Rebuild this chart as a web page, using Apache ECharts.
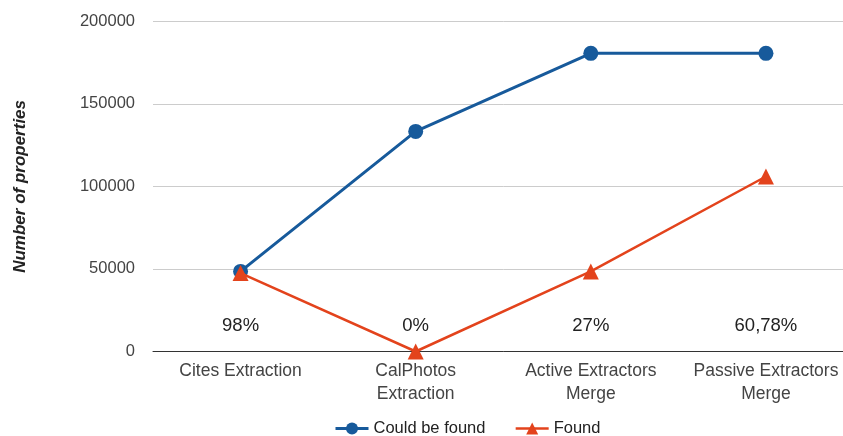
<!DOCTYPE html>
<html>
<head>
<meta charset="utf-8">
<script src="https://cdn.jsdelivr.net/npm/echarts@6/dist/echarts.min.js"></script>
<style>
  html, body { margin: 0; padding: 0; background: #fff; overflow: hidden; width: 843px; height: 436px; }
  /* plot runs past the right edge, so the canvas is a bit wider than the page */
  #chart { width: 855px; height: 436px; }
</style>
</head>
<body>
<div id="chart"></div>
<script>
// Extraction stages along the x axis
const categories = ['Cites Extraction', 'CalPhotos\nExtraction', 'Active Extractors\nMerge', 'Passive Extractors\nMerge'];
// Properties that could be found vs. actually found per stage
const couldBeFound = [48500, 133300, 180600, 180600];
const found = [47500, 0, 48500, 106000];
// Ratio labels shown above the x axis
const ratioLabels = ['98%', '0%', '27%', '60,78%'];
const ratioLabelLevel = 15500;
const yTicks = { min: 0, max: 200000, interval: 50000 };

const FONT = 'Liberation Sans, Arial, sans-serif';
const BLUE = '#175a9b';
const RED = '#e3431c';

const chart = echarts.init(document.getElementById('chart'));
chart.setOption({
  animation: false,
  textStyle: { fontFamily: FONT },
  grid: { left: 153, right: 1.5, top: 21.3, bottom: 84.5, containLabel: false },
  legend: {
    top: 420,
    left: 334,
    padding: 0,
    itemWidth: 33,
    itemHeight: 15,
    itemGap: 29,
    textStyle: { fontFamily: FONT, fontSize: 16.5, color: '#222' },
    data: [
      { name: 'Could be found', lineStyle: { width: 3 } },
      { name: 'Found', lineStyle: { width: 2.5 } }
    ]
  },
  xAxis: {
    type: 'category',
    data: categories,
    axisLine: { lineStyle: { color: '#333', width: 1 } },
    axisTick: { show: false },
    axisLabel: { fontFamily: FONT, fontSize: 17.5, color: '#444', margin: 8, lineHeight: 23, interval: 0 }
  },
  yAxis: {
    type: 'value',
    min: yTicks.min,
    max: yTicks.max,
    interval: yTicks.interval,
    name: 'Number of properties',
    nameLocation: 'middle',
    nameGap: 124,
    nameTextStyle: { fontFamily: FONT, fontSize: 17, fontWeight: 'bold', fontStyle: 'italic', color: '#222' },
    axisLine: { show: false },
    axisTick: { show: false },
    splitLine: { lineStyle: { color: '#cccccc', width: 1 } },
    axisLabel: { fontFamily: FONT, fontSize: 16.5, color: '#444', margin: 18, formatter: v => String(v) }
  },
  series: [
    {
      name: 'Could be found',
      type: 'line',
      data: couldBeFound,
      symbol: 'circle',
      symbolSize: 15,
      lineStyle: { color: BLUE, width: 3 },
      itemStyle: { color: BLUE },
      z: 2
    },
    {
      name: 'Found',
      type: 'line',
      data: found,
      symbol: 'triangle',
      symbolSize: 16,
      lineStyle: { color: RED, width: 2.5 },
      itemStyle: { color: RED },
      z: 3
    },
    {
      name: 'ratio',
      type: 'scatter',
      data: ratioLabels.map(() => ratioLabelLevel),
      symbolSize: 0,
      silent: true,
      itemStyle: { opacity: 1 },
      label: {
        show: true,
        position: 'inside',
        formatter: p => ratioLabels[p.dataIndex],
        fontFamily: FONT,
        fontSize: 18.5,
        color: '#222'
      }
    }
  ]
});
</script>
</body>
</html>
